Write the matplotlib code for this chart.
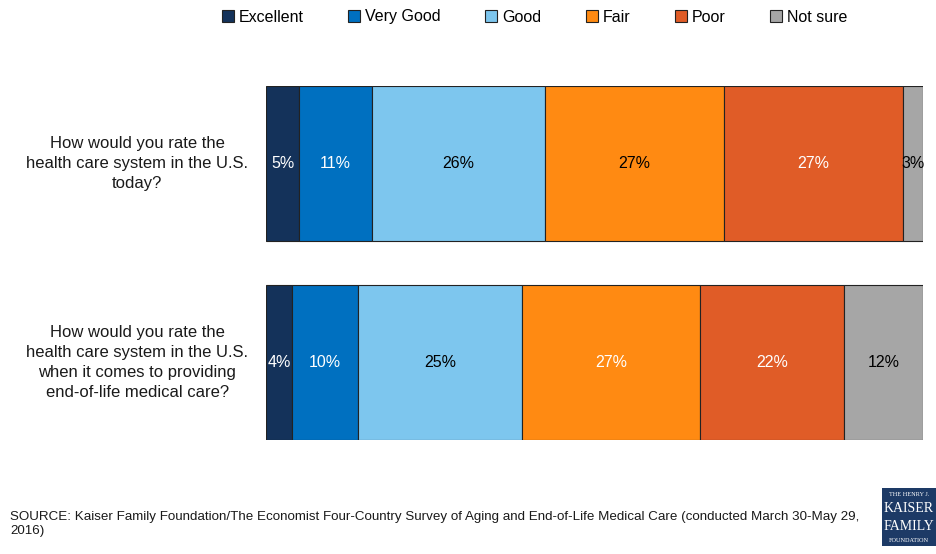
import numpy as np
import matplotlib
matplotlib.use("Agg")
import matplotlib.pyplot as plt
from matplotlib.patches import Patch, Rectangle

plt.rcParams['font.family'] = ['Liberation Sans', 'DejaVu Sans']

# data
categories = ['Excellent', 'Very Good', 'Good', 'Fair', 'Poor', 'Not sure']
questions = [
    'How would you rate the\nhealth care system in the U.S.\ntoday?',
    'How would you rate the\nhealth care system in the U.S.\nwhen it comes to providing\nend-of-life medical care?',
]
today = [5, 11, 26, 27, 27, 3]
end_of_life = [4, 10, 25, 27, 22, 12]
colors = ['#14325A', '#0070C0', '#7DC6EE', '#FF8A12', '#E05C27', '#A6A6A6']
label_colors = [
    ['white', 'white', 'black', 'black', 'white', 'black'],
    ['white', 'white', 'black', 'white', 'white', 'black'],
]
source = ("SOURCE: Kaiser Family Foundation/The Economist Four-Country Survey of Aging and "
          "End-of-Life Medical Care (conducted March 30-May 29,\n2016)")

rows = [today, end_of_life]
ypos = [1, 0]

fig = plt.figure(figsize=(9.36, 5.54), dpi=100)
ax = fig.add_axes([266 / 936, 1 - 440 / 554, 657 / 936, 354 / 554])

for r, (vals, y) in enumerate(zip(rows, ypos)):
    vals = np.array(vals, dtype=float)
    widths = vals / vals.sum() * 100  # rows are stretched to full width
    left = 0.0
    for i, w in enumerate(widths):
        ax.barh(y, w, left=left, height=0.78, color=colors[i],
                edgecolor='#222222', linewidth=0.8)
        ax.text(left + w / 2, y, f'{int(vals[i])}%', ha='center', va='center',
                fontsize=11.5, color=label_colors[r][i])
        left += w
    ax.text(-0.196, y, questions[r], transform=ax.get_yaxis_transform(),
            ha='center', va='center', fontsize=12, linespacing=1.42,
            color='#1a1a1a')

ax.set_xlim(0, 100)
ax.set_ylim(-0.39, 1.39)
ax.axis('off')

handles = [Patch(facecolor=c, edgecolor='#222222', linewidth=0.8) for c in colors]
fig.legend(handles, categories, loc='center', bbox_to_anchor=(0.571, 1 - 17 / 554),
           ncol=6, frameon=False, fontsize=11.5, handlelength=0.75,
           handleheight=0.75, handletextpad=0.3, columnspacing=2.8)

fig.text(10 / 936, 1 - 524 / 554, source, ha='left', va='center', fontsize=9.6,
         linespacing=1.3, color='#1a1a1a')

# logo box
fig.patches.append(Rectangle((882 / 936, 1 - 546 / 554), 54 / 936, 58 / 554,
                             transform=fig.transFigure, facecolor='#1D3A66',
                             edgecolor='none'))
fig.text(909 / 936, 1 - 494 / 554, 'THE HENRY J.', ha='center', va='center',
         fontsize=4.5, color='white', family='Liberation Serif')
fig.text(909 / 936, 1 - 509 / 554, 'KAISER', ha='center', va='center',
         fontsize=10, color='white', family='Liberation Serif')
fig.text(909 / 936, 1 - 526 / 554, 'FAMILY', ha='center', va='center',
         fontsize=10, color='white', family='Liberation Serif')
fig.text(909 / 936, 1 - 540 / 554, 'FOUNDATION', ha='center', va='center',
         fontsize=4.5, color='white', family='Liberation Serif')

fig.savefig('out.png', dpi=100)
